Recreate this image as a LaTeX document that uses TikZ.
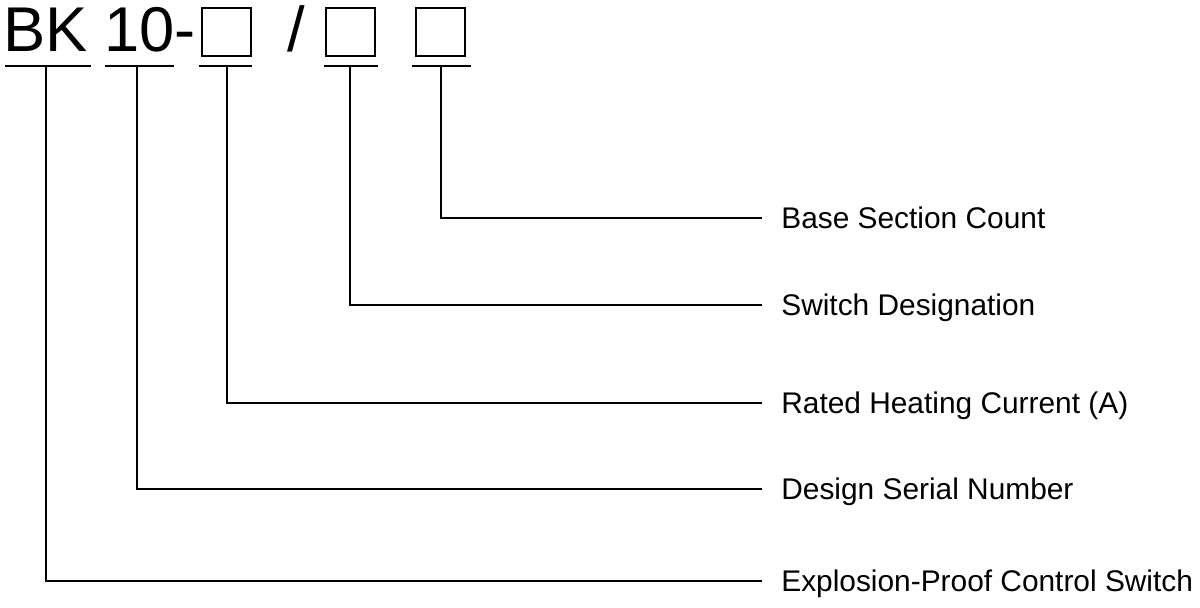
\documentclass[tikz,border=0pt]{standalone}
\usepackage{fontspec}
\setmainfont{Liberation Sans}
\usetikzlibrary{positioning}

\begin{document}
\begin{tikzpicture}[
        x=0.02cm, y=-0.02cm,
        codeText/.style={
            font=\fontsize{36}{36}\selectfont,
            inner sep=0pt,
            anchor=base west
        },
        codeBox/.style={
            draw,
            line width=1.1pt,
            minimum width=0.98cm,
            minimum height=0.96cm,
            inner sep=0pt
        },
        barLine/.style={
            line width=1.1pt
        },
        connLine/.style={
            line width=1.1pt
        },
        labelNode/.style={
            font=\fontsize{17}{20}\selectfont,
            anchor=west,
            inner xsep=0.38cm,
            inner ysep=0pt,
            text height=12.2pt,
            text depth=0pt
        }
    ]
    \useasboundingbox (0,0) rectangle (1200,608);

    % Model code on top
    \node[codeText] (bk) at (3,52) {BK};
    \node[codeText] (serial) at (104,52) {10-};
    \node[codeBox] (box1) at (226.5,32) {};
    \node[codeText] (slash) at (287,52) {/};
    \node[codeBox] (box2) at (350.5,32) {};
    \node[codeBox] (box3) at (440.5,32) {};

    % Underlines
    \draw[barLine] (5,66) -- (91,66);
    \draw[barLine] (105,66) -- (174,66);
    \draw[barLine] (199,66) -- (252,66);
    \draw[barLine] (324,66) -- (378,66);
    \draw[barLine] (412,66) -- (471,66);
    \coordinate (b1) at (46,66);
    \coordinate (b2) at (137,66);
    \coordinate (b3) at (227,66);
    \coordinate (b4) at (350,66);
    \coordinate (b5) at (441,66);

    % Explanations on the right
    \node[labelNode] (lblBase) at (762,218) {Base Section Count};
    \node[labelNode] (lblSwitch) at (762,305) {Switch Designation};
    \node[labelNode] (lblCurrent) at (762,403) {Rated Heating Current (A)};
    \node[labelNode] (lblSerial) at (762,489) {Design Serial Number};
    \node[labelNode] (lblType) at (762,581) {Explosion-Proof Control Switch};

    % Connections
    \draw[connLine] (b5) |- (lblBase.west);
    \draw[connLine] (b4) |- (lblSwitch.west);
    \draw[connLine] (b3) |- (lblCurrent.west);
    \draw[connLine] (b2) |- (lblSerial.west);
    \draw[connLine] (b1) |- (lblType.west);
\end{tikzpicture}
\end{document}
